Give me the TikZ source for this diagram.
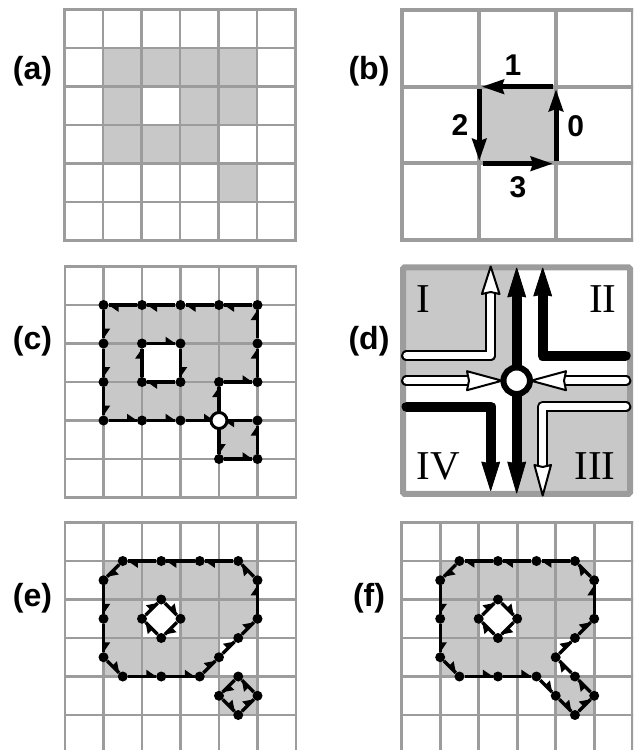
\documentclass[tikz,border=0pt]{standalone}
\usepackage{fontspec}
\setmainfont{Liberation Sans}
\newfontfamily\romanfam{Liberation Serif}
\usetikzlibrary{arrows.meta,calc}
\definecolor{gridgray}{HTML}{9C9C9C}
\definecolor{cellgray}{HTML}{C8C8C8}
\tikzset{
  gridline/.style={draw=gridgray,line width=2.8pt,line cap=rect},
  bigline/.style={draw=gridgray,line width=4pt,line cap=rect},
  cell/.style={fill=cellgray},
  dot/.style={circle,fill=black,inner sep=0pt,minimum size=10pt},
  contour/.style={draw=black,line width=3.8pt},
  barb/.style={fill=black},
  tag/.style={font=\bfseries\fontsize{32}{32}\selectfont,inner sep=0pt},
  digit/.style={font=\bfseries\fontsize{30}{30}\selectfont,inner sep=0pt},
  roman/.style={font=\romanfam\fontsize{41}{41}\selectfont,inner sep=0pt},
  bigarrow/.style={draw=black,line width=5pt,-{Stealth[length=22pt,width=14pt,inset=2pt]}},
  thick path/.style={draw=black,line width=10.4pt,line cap=round,line join=round},
  hollow outer/.style={draw=black,line width=11.4pt,line cap=round,line join=round},
  hollow inner/.style={draw=white,line width=7pt,line cap=round,line join=round},
  headblack/.style={fill=black,draw=black,line width=0.8pt,line join=round},
  headwhite/.style={fill=white,draw=black,line width=2pt,line join=round},
  hub/.style={circle,fill=white,draw=black,inner sep=0pt},
}
\newcommand\gridpanel[2]{%
  \foreach \cx/\cy in {1/1,2/1,3/1,4/1,1/2,3/2,4/2,1/3,2/3,3/3,4/4}
    \fill[cell] ({#1+38.5*\cx},{#2+38.5*\cy}) rectangle ++(38.5,38.5);
  \foreach \q in {0,...,6}{
    \draw[gridline] ({#1+38.5*\q},#2) -- ++(0,231);
    \draw[gridline] (#1,{#2+38.5*\q}) -- ++(231,0);
  }%
}
\newcommand\edgebarb[2]{%
  \draw[contour] (#1) -- (#2);
  \coordinate (bk) at ($(#2)!15pt!(#1)$);
  \fill[barb] ($(#2)!5pt!(#1)$) -- (bk) -- ($(bk)!6.8pt!90:(#2)$) -- cycle;
}
\newcommand\ring[4]{%
  \foreach \u/\v [count=\k] in {#4}{
    \node[dot] (#3\k) at ({#1+38.5*\u},{#2+38.5*\v}) {};
    \xdef\lastk{\k}
  }
  \foreach \k [remember=\k as \p (initially \lastk)] in {1,...,\lastk}{
    \edgebarb{#3\p}{#3\k}
  }%
}
\newcommand\arrowhead[4]{%
  \path[#4] ($(#1)!#3!90:(#2)$) -- (#2) -- ($(#1)!#3!-90:(#2)$) -- ($(#1)!2pt!(#2)$) -- cycle;
}
\begin{document}
\begin{tikzpicture}[x=1pt,y=-1pt]
\useasboundingbox (0,0) rectangle (633,750);
\clip (0,0) rectangle (633,750);

% (a)
\gridpanel{64.5}{9.5}
\node[tag] (la) at (32.5,71) {(a)};

% (b)
\fill[cell] (479,86.7) rectangle (555.7,163.3);
\foreach \q in {401.7,479,555.7,632.5} \draw[bigline] (\q,10) -- (\q,239.5);
\foreach \q in {10,86.7,163.3,239.5} \draw[bigline] (401.7,\q) -- (632.5,\q);
\node[tag] (lb) at (369,71) {(b)};
\coordinate (b1) at (556,160.5);
\coordinate (b2) at (556,89);
\coordinate (b3) at (552.7,86.7);
\coordinate (b4) at (481.7,86.7);
\coordinate (b5) at (479.3,89);
\coordinate (b6) at (479.3,161);
\coordinate (b7) at (482.7,163.7);
\coordinate (b8) at (553,163.7);
\draw[bigarrow] (b1) -- (b2);
\draw[bigarrow] (b3) -- (b4);
\draw[bigarrow] (b5) -- (b6);
\draw[bigarrow] (b7) -- (b8);
\node[digit] (n0) at (575.7,126) {0};
\node[digit] (n1) at (513,65) {1};
\node[digit] (n2) at (460,125) {2};
\node[digit] (n3) at (518,187) {3};

% (c)
\gridpanel{65}{266.5}
\node[tag] (lc) at (32.5,341) {(c)};
\ring{65}{266.5}{ca}{1/1,1/2,1/3,1/4,2/4,3/4,4/4,4/3,5/3,5/2,5/1,4/1,3/1,2/1}
\ring{65}{266.5}{cb}{2/2,3/2,3/3,2/3}
\ring{65}{266.5}{cc}{4/4,4/5,5/5,5/4}
\node[hub,minimum size=16pt,line width=3pt] (chub) at (ca7) {};

% (d)
\fill[cell] (403,267) rectangle (516.7,380.7);
\fill[cell] (516.7,380.7) rectangle (630,493.5);
\draw[gridgray,line width=6pt,rounded corners=1.5pt] (403,267.3) rectangle (630,493.8);
\node[tag] (ld) at (369,341) {(d)};
\node[roman] (qI) at (423,299) {I};
\node[roman] (qII) at (602.7,299) {II};
\node[roman] (qIII) at (595,466) {III};
\node[roman] (qIV) at (438,466) {IV};
\coordinate (ctr) at (516.7,380.7);
% quadrant I, hollow
\coordinate (p1) at (406.7,355.7);
\coordinate (p2) at (490.7,355.7);
\coordinate (p3) at (490.7,294);
\coordinate (p4) at (490.7,266.5);
\draw[hollow outer] (p1) -- (p2) -- (p3);
\draw[hollow inner] (p1) -- (p2) -- (p3);
\arrowhead{p3}{p4}{8.8pt}{headwhite}
% quadrant II, solid
\coordinate (q1) at (625.5,355.7);
\coordinate (q2) at (542.7,355.7);
\coordinate (q3) at (542.7,296);
\coordinate (q4) at (542.7,268);
\draw[thick path] (q1) -- (q2) -- (q3);
\arrowhead{q3}{q4}{9pt}{headblack}
% centre up
\coordinate (u3) at (516.7,297);
\coordinate (u4) at (516.7,268);
\draw[thick path] (ctr) -- (u3);
\arrowhead{u3}{u4}{9pt}{headblack}
% centre down
\coordinate (d3) at (516.7,462);
\coordinate (d4) at (516.7,493);
\draw[thick path] (ctr) -- (d3);
\arrowhead{d3}{d4}{9pt}{headblack}
% quadrant IV, solid
\coordinate (s1) at (406.7,406.7);
\coordinate (s2) at (490.7,406.7);
\coordinate (s3) at (490.7,462);
\coordinate (s4) at (490.7,490.5);
\draw[thick path] (s1) -- (s2) -- (s3);
\arrowhead{s3}{s4}{9pt}{headblack}
% quadrant III, hollow
\coordinate (t1) at (625.7,406.7);
\coordinate (t2) at (542.7,406.7);
\coordinate (t3) at (542.7,465);
\coordinate (t4) at (542.7,495.5);
\draw[hollow outer] (t1) -- (t2) -- (t3);
\draw[hollow inner] (t1) -- (t2) -- (t3);
\arrowhead{t3}{t4}{8.3pt}{headwhite}
% horizontal hollow
\coordinate (h1) at (406.7,380.7);
\coordinate (h2) at (467,380.7);
\coordinate (h3) at (502,380.7);
\draw[hollow outer] (h1) -- (h2);
\draw[hollow inner] (h1) -- (h2);
\arrowhead{h2}{h3}{9.5pt}{headwhite}
\coordinate (k1) at (625.7,380.7);
\coordinate (k2) at (566,380.7);
\coordinate (k3) at (531,380.7);
\draw[hollow outer] (k1) -- (k2);
\draw[hollow inner] (k1) -- (k2);
\arrowhead{k2}{k3}{9.5pt}{headwhite}
\node[hub,minimum size=26.5pt,line width=6pt] (dhub) at (ctr) {};

% (e)
\gridpanel{65}{522.5}
\node[tag] (le) at (32.5,598) {(e)};
\tikzset{contour/.append style={line width=3.4pt}}
\ring{65}{522.5}{ea}{1.5/1,1/1.5,1/2.5,1/3.5,1.5/4,2.5/4,3.5/4,4/3.5,4.5/3,5/2.5,5/1.5,4.5/1,3.5/1,2.5/1}
\ring{65}{522.5}{eb}{2.5/2,3/2.5,2.5/3,2/2.5}
\ring{65}{522.5}{ec}{4.5/4,4/4.5,4.5/5,5/4.5}

% (f)
\gridpanel{401.7}{522.5}
\node[tag] (lf) at (369,598) {(f)};
\ring{401.7}{522.5}{fa}{1.5/1,1/1.5,1/2.5,1/3.5,1.5/4,2.5/4,3.5/4,4/4.5,4.5/5,5/4.5,4.5/4,4/3.5,4.5/3,5/2.5,5/1.5,4.5/1,3.5/1,2.5/1}
\ring{401.7}{522.5}{fb}{2.5/2,3/2.5,2.5/3,2/2.5}
\end{tikzpicture}
\end{document}
